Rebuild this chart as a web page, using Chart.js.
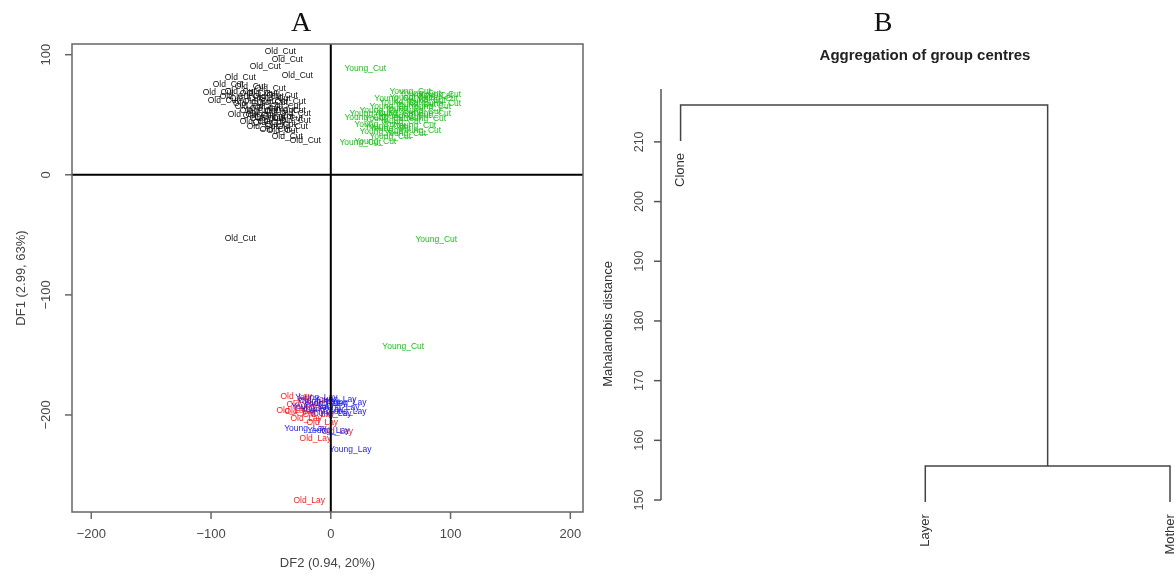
<!DOCTYPE html>
<html>
<head>
<meta charset="utf-8">
<script src="https://cdn.jsdelivr.net/npm/chart.js@4.4.0/dist/chart.umd.min.js"></script>
<style>
html,body{margin:0;padding:0;background:#fff;}
body{width:1176px;height:577px;position:relative;overflow:hidden;}
canvas{position:absolute;top:0;}
#cA{left:0;}
#cB{left:590px;}
</style>
</head>
<body>
<canvas id="cA" width="590" height="577"></canvas>
<canvas id="cB" width="586" height="577"></canvas>
<script>
// ---------- Panel A: discriminant scores (DF2 on x, DF1 on y) ----------
const oldCutDF2 = [-42.2,-36.3,-54.7,-28.0,-75.6,-85.6,-67.2,-50.5,-94.0,-75.6,-57.2,-40.5,-89.8,-71.4,-60.5,-48.9,-33.8,-67.2,-54.7,-42.2,-73.1,-60.5,-50.5,-36.3,-63.0,-52.2,-42.2,-32.1,-46.3,-36.3,-21.3,-79.7,-46.3,-57.2,-29.6,-63.0,-52.2,-38.0,-43.8,-57.2,-29.6,-68.7,-33.8,-54.7,-40.5,-63.0,-75.6];
const oldCutDF1 = [102.5,95.8,90.0,82.5,80.8,75.0,73.3,71.7,68.3,69.2,67.5,65.8,61.7,63.3,60.8,60.0,60.8,56.7,55.0,53.3,50.0,49.2,47.5,46.7,44.2,43.3,41.7,40.0,37.5,31.7,28.3,65.0,63.3,52.5,50.8,67.5,65.0,56.7,48.3,40.0,45.0,59.2,53.3,46.7,36.7,53.3,-53.3];

const youngCutDF2 = [28.8,74.7,84.8,66.4,78.9,58.0,70.6,83.1,49.7,62.2,41.3,74.7,53.4,66.4,28.8,45.5,78.9,58.0,37.2,70.6,49.7,41.3,62.2,49.7,24.6,37.2,88.9,91.4,53.8,33.0,83.1,91.4,58.0,45.5,74.7,66.4,88.1,60.5];
const youngCutDF1 = [88.3,67.5,65.8,64.2,61.7,60.0,58.3,56.7,56.7,55.0,53.3,52.5,50.8,49.2,47.5,46.7,46.7,44.2,41.7,40.8,38.3,35.8,34.2,31.7,26.7,27.5,63.3,59.2,63.3,50.8,50.8,66.7,48.3,40.0,36.7,69.2,-54.2,-143.3];

const oldLayDF2 = [-28.8,-32.2,-23.8,-17.1,-20.5,-10.4,-12.9,5.4,-13.8,-7.1,-25.5,-18.0];
const oldLayDF1 = [-185.0,-196.7,-191.7,-195.0,-203.3,-200.0,-220.0,-214.2,-188.3,-206.7,-197.5,-271.7];

const youngLayDF2 = [-12.1,3.8,12.1,-4.6,-15.4,6.3,-7.1,12.1,-0.4,-21.3,-2.1,16.3,-10.4];
const youngLayDF1 = [-185.8,-187.5,-190.0,-190.8,-193.3,-194.2,-195.8,-197.5,-199.2,-211.7,-213.3,-229.2,-189.2];

const groupNames = ['Old_Cut','Young_Cut','Old_Lay','Young_Lay'];
const groupColors = ['#111111','#19c119','#ff1a1a','#1a1aff'];

const df2Ticks = [-200,-100,0,100,200];
const df1Ticks = [-200,-100,0,100];
const df2Range = [-216.1, 210.6];
const df1Range = [-280.8, 108.9];

// ---------- Panel B: dendrogram of group centres ----------
const leafNames = ['Clone','Layer','Mother'];
const leafPos = [1,2,3];
const leafLow = [210.15,149.65,149.65];   // lower end of each leaf's drop line
const mergeLayerMother = 155.7;
const mergeAll = 216.2;
const distTicks = [150,160,170,180,190,200,210];
const posRange = [0.92, 3.0245];
const distRange = [146.99, 218.86];

const SANS = '"Liberation Sans", Arial, sans-serif';

function pts(xs, ys){ return xs.map((x,i)=>({x:x, y:ys[i]})); }
function rotText(ctx, text, x, y, align){
  ctx.save(); ctx.translate(x,y); ctx.rotate(-Math.PI/2);
  ctx.textAlign = align || 'center'; ctx.textBaseline = 'middle';
  ctx.fillText(text,0,0); ctx.restore();
}

// draws each observation as its group name, centred on the point
const textMarks = {
  id:'textMarks',
  beforeDatasetsDraw(chart){
    const ctx = chart.ctx;
    ctx.save();
    ctx.font = '8.5px ' + SANS;
    ctx.textAlign = 'center'; ctx.textBaseline = 'middle';
    chart.data.datasets.forEach((ds,i)=>{
      if(!ds.markText) return;
      ctx.fillStyle = ds.markColor;
      chart.getDatasetMeta(i).data.forEach(el=>ctx.fillText(ds.markText, el.x, el.y));
    });
    ctx.restore();
  }
};

// R-style frame, ticks and labels for panel A
const frameA = {
  id:'frameA',
  afterDraw(chart){
    const ctx = chart.ctx, a = chart.chartArea, xs = chart.scales.x, ys = chart.scales.y;
    ctx.save();
    ctx.strokeStyle = '#666'; ctx.lineWidth = 1.5;
    ctx.strokeRect(a.left, a.top, a.right-a.left, a.bottom-a.top);
    ctx.fillStyle = '#4a4a4a';
    ctx.font = '13px ' + SANS;
    ctx.textAlign = 'center'; ctx.textBaseline = 'middle';
    df2Ticks.forEach(v=>{
      const px = xs.getPixelForValue(v);
      ctx.beginPath(); ctx.moveTo(px, a.bottom); ctx.lineTo(px, a.bottom+7); ctx.stroke();
      ctx.fillText(v < 0 ? '\u2212' + Math.abs(v) : String(v), px, a.bottom+22);
    });
    df1Ticks.forEach(v=>{
      const py = ys.getPixelForValue(v);
      ctx.beginPath(); ctx.moveTo(a.left, py); ctx.lineTo(a.left-7, py); ctx.stroke();
      rotText(ctx, v < 0 ? '\u2212' + Math.abs(v) : String(v), a.left-26, py);
    });
    ctx.fillStyle = '#444';
    ctx.fillText('DF2 (0.94, 20%)', (a.left+a.right)/2, 563);
    rotText(ctx, 'DF1 (2.99, 63%)', 21, (a.top+a.bottom)/2);
    ctx.fillStyle = '#111';
    ctx.font = '28px "Liberation Serif", serif';
    ctx.textBaseline = 'alphabetic';
    ctx.fillText('A', 301, 31);
    ctx.restore();
  }
};

const groupsX = [oldCutDF2, youngCutDF2, oldLayDF2, youngLayDF2];
const groupsY = [oldCutDF1, youngCutDF1, oldLayDF1, youngLayDF1];
const dsA = groupNames.map((n,i)=>({
  label:n, data:pts(groupsX[i], groupsY[i]),
  markText:n, markColor:groupColors[i],
  pointRadius:0, pointHoverRadius:0, showLine:false
}));
// reference lines through the origin
dsA.push({label:'h0', data:[{x:df2Range[0],y:0},{x:df2Range[1],y:0}], showLine:true, borderColor:'#000', borderWidth:2, pointRadius:0});
dsA.push({label:'v0', data:[{x:0,y:df1Range[0]},{x:0,y:df1Range[1]}], showLine:true, borderColor:'#000', borderWidth:2, pointRadius:0});

new Chart(document.getElementById('cA'), {
  type:'scatter',
  data:{datasets:dsA},
  options:{
    responsive:false, animation:false, devicePixelRatio:1,
    layout:{padding:{left:72, right:7, top:44, bottom:65}},
    plugins:{legend:{display:false}, tooltip:{enabled:false}},
    scales:{
      x:{type:'linear', min:df2Range[0], max:df2Range[1], display:false},
      y:{type:'linear', min:df1Range[0], max:df1Range[1], display:false}
    }
  },
  plugins:[textMarks, frameA]
});

// ---------- Panel B chart ----------
const midLM = (leafPos[1]+leafPos[2])/2;
const branchLM = [
  {x:leafPos[1], y:leafLow[1]}, {x:leafPos[1], y:mergeLayerMother},
  {x:leafPos[2], y:mergeLayerMother}, {x:leafPos[2], y:leafLow[2]}
];
const branchTop = [
  {x:leafPos[0], y:leafLow[0]}, {x:leafPos[0], y:mergeAll},
  {x:midLM, y:mergeAll}, {x:midLM, y:mergeLayerMother}
];

const frameB = {
  id:'frameB',
  afterDraw(chart){
    const ctx = chart.ctx, a = chart.chartArea, xs = chart.scales.x, ys = chart.scales.y;
    ctx.save();
    ctx.strokeStyle = '#555'; ctx.lineWidth = 1.5;
    ctx.beginPath(); ctx.moveTo(a.left, ys.getPixelForValue(distTicks[0])); ctx.lineTo(a.left, a.top); ctx.stroke();
    ctx.fillStyle = '#4a4a4a';
    ctx.font = '12.5px ' + SANS;
    distTicks.forEach(v=>{
      const py = ys.getPixelForValue(v);
      ctx.beginPath(); ctx.moveTo(a.left, py); ctx.lineTo(a.left-7, py); ctx.stroke();
      rotText(ctx, String(v), a.left-21, py);
    });
    ctx.fillStyle = '#333';
    ctx.font = '13px ' + SANS;
    rotText(ctx, 'Mahalanobis distance', 18, 324);
    leafNames.forEach((n,i)=>{
      rotText(ctx, n, xs.getPixelForValue(leafPos[i]), ys.getPixelForValue(leafLow[i]) + 12, 'right');
    });
    ctx.fillStyle = '#222';
    ctx.font = 'bold 15px ' + SANS;
    ctx.textAlign = 'center'; ctx.textBaseline = 'middle';
    ctx.fillText('Aggregation of group centres', 335, 56);
    ctx.font = '28px "Liberation Serif", serif';
    ctx.textBaseline = 'alphabetic';
    ctx.fillStyle = '#111';
    ctx.fillText('B', 293, 31);
    ctx.restore();
  }
};

new Chart(document.getElementById('cB'), {
  type:'scatter',
  data:{datasets:[
    {label:'Layer-Mother', data:branchLM, showLine:true, borderColor:'#444', borderWidth:1.5, pointRadius:0, clip:false},
    {label:'Clone-rest', data:branchTop, showLine:true, borderColor:'#444', borderWidth:1.5, pointRadius:0, clip:false}
  ]},
  options:{
    responsive:false, animation:false, devicePixelRatio:1,
    layout:{padding:{left:71, right:0, top:89, bottom:59}},
    plugins:{legend:{display:false}, tooltip:{enabled:false}},
    scales:{
      x:{type:'linear', min:posRange[0], max:posRange[1], display:false},
      y:{type:'linear', min:distRange[0], max:distRange[1], display:false}
    }
  },
  plugins:[frameB]
});
</script>
</body>
</html>
